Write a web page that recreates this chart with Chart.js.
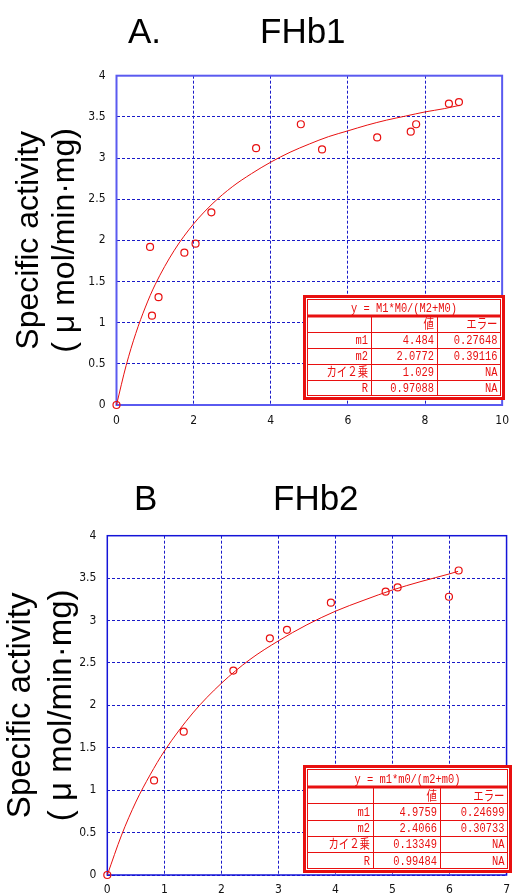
<!DOCTYPE html>
<html>
<head>
<meta charset="utf-8">
<script src="https://cdn.jsdelivr.net/npm/chart.js@4.4.0/dist/chart.umd.min.js"></script>
<style>
  html, body { margin: 0; padding: 0; background: #fff; }
  body { width: 518px; height: 895px; position: relative; overflow: hidden; }
  canvas { position: absolute; left: 0; }
  #chartA { top: 0; }
  #chartB { top: 440px; }
</style>
</head>
<body>
<canvas id="chartA" width="518" height="440"></canvas>
<canvas id="chartB" width="518" height="455"></canvas>
<script>
// panel A - FHb1, measured points
var fhb1X = [0, 0.87, 0.92, 1.09, 1.76, 2.05, 2.46, 3.62, 4.78, 5.33, 6.76, 7.63, 7.77, 8.62, 8.88];
var fhb1Y = [0, 1.92, 1.085, 1.31, 1.85, 1.96, 2.34, 3.12, 3.41, 3.105, 3.25, 3.32, 3.41, 3.66, 3.68];
// fitted curve
var fit1X = [0, 0.25, 0.5, 0.75, 1, 1.5, 2, 2.5, 3, 3.5, 4, 4.5, 5, 5.5, 6, 6.5, 7, 7.5, 8, 8.5, 8.9];
var fit1Y = [0, 0.48, 0.87, 1.19, 1.46, 1.88, 2.20, 2.45, 2.65, 2.81, 2.95, 3.07, 3.17, 3.26, 3.33, 3.40, 3.46, 3.51, 3.56, 3.60, 3.64];

// panel B - FHb2
var fhb2X = [0, 0.82, 1.34, 2.21, 2.85, 3.15, 3.92, 4.88, 5.09, 5.99, 6.16];
var fhb2Y = [0, 1.115, 1.69, 2.41, 2.79, 2.89, 3.21, 3.34, 3.39, 3.28, 3.59];
var fit2X = [0, 0.25, 0.5, 0.75, 1, 1.5, 2, 2.5, 3, 3.5, 4, 4.5, 5, 5.5, 6, 6.15];
var fit2Y = [0, 0.47, 0.86, 1.18, 1.46, 1.91, 2.26, 2.54, 2.76, 2.95, 3.11, 3.24, 3.36, 3.46, 3.55, 3.58];

// titles
var panelA = ['A.', 'FHb1'];
var panelB = ['B', 'FHb2'];
var yTitle = ['Specific activity', '( \u03bc mol/min\u00b7mg)'];

// fit result tables
var table1Head = 'y = M1*M0/(M2+M0)';
var table2Head = 'y = m1*m0/(m2+m0)';
var tableCols = ['', '値', 'エラー'];
var table1Rows = [['m1', '4.484', '0.27648'], ['m2', '2.0772', '0.39116'], ['カイ２乗', '1.029', 'NA'], ['R', '0.97088', 'NA']];
var table2Rows = [['m1', '4.9759', '0.24699'], ['m2', '2.4066', '0.30733'], ['カイ２乗', '0.13349', 'NA'], ['R', '0.99484', 'NA']];

var red = '#e81010';
var tickFont = { family: '"DejaVu Sans Condensed", "Liberation Sans Narrow", sans-serif', size: 12 };

function zip(xs, ys) {
  return xs.map(function (x, i) { return { x: x, y: ys[i] }; });
}

function line(ctx, x1, y1, x2, y2) {
  ctx.beginPath();
  ctx.moveTo(x1, y1);
  ctx.lineTo(x2, y2);
  ctx.stroke();
}

// solid frame around the plot area
var framePlugin = {
  id: 'frame',
  beforeDatasetsDraw: function (chart, args, opts) {
    var a = chart.chartArea, ctx = chart.ctx;
    ctx.save();
    ctx.strokeStyle = opts.color;
    ctx.lineWidth = opts.width;
    ctx.strokeRect(a.left, a.top, a.right - a.left, a.bottom - a.top);
    ctx.restore();
  }
};

var titlePlugin = {
  id: 'panelTitle',
  afterDraw: function (chart, args, opts) {
    var ctx = chart.ctx;
    ctx.save();
    ctx.font = '35px "Liberation Sans", Arial, sans-serif';
    ctx.fillStyle = '#000';
    ctx.textBaseline = 'alphabetic';
    ctx.textAlign = 'left';
    ctx.fillText(opts.text[0], opts.x[0], opts.y);
    ctx.fillText(opts.text[1], opts.x[1], opts.y);
    ctx.restore();
  }
};

// narrow text, like the fixed-width font of the original table
function narrowText(ctx, s, x, y) {
  ctx.save();
  ctx.translate(x, y);
  ctx.scale(0.8, 1);
  ctx.fillText(s, 0, 0);
  ctx.restore();
}

var tablePlugin = {
  id: 'fitTable',
  afterDraw: function (chart, args, o) {
    var ctx = chart.ctx;
    var x = o.x, y = o.y, w = o.w, h = o.h;
    var c1 = x + w * o.cols[0], c2 = x + w * o.cols[1];
    ctx.save();
    ctx.fillStyle = '#fff';
    ctx.fillRect(x, y, w, h);
    ctx.strokeStyle = red;
    ctx.lineWidth = 3;
    ctx.strokeRect(x + 1.5, y + 1.5, w - 3, h - 3);
    ctx.lineWidth = 1;
    var inL = x + 4.5, inR = x + w - 4.5, inT = y + 4.5, inB = y + h - 4.5;
    ctx.strokeRect(inL, inT, inR - inL, inB - inT);
    var headB = y + o.headH;
    var rows = [tableCols].concat(o.rows);
    var rowH = (inB - headB) / rows.length;
    ctx.lineWidth = 3;
    line(ctx, inL, headB, inR, headB);
    ctx.lineWidth = 1;
    for (var i = 1; i < rows.length; i++) {
      line(ctx, inL, Math.round(headB + rowH * i) + 0.5, inR, Math.round(headB + rowH * i) + 0.5);
    }
    line(ctx, Math.round(c1) + 0.5, headB, Math.round(c1) + 0.5, inB);
    line(ctx, Math.round(c2) + 0.5, headB, Math.round(c2) + 0.5, inB);

    ctx.fillStyle = red;
    ctx.font = '13px "Liberation Mono", "Noto Sans CJK JP", monospace';
    ctx.textBaseline = 'middle';
    ctx.textAlign = 'center';
    narrowText(ctx, o.head, (inL + inR) / 2, (inT + headB) / 2 + 1);
    ctx.textAlign = 'right';
    rows.forEach(function (r, i) {
      var cy = headB + rowH * (i + 0.5) + 1;
      narrowText(ctx, r[0], c1 - 3, cy);
      narrowText(ctx, r[1], c2 - 3, cy);
      narrowText(ctx, r[2], inR - 3, cy);
    });
    ctx.restore();
  }
};

function makeChart(canvasId, o) {
  return new Chart(document.getElementById(canvasId), {
    type: 'scatter',
    data: {
      datasets: [
        {
          data: zip(o.fitX, o.fitY),
          showLine: true,
          borderColor: red,
          borderWidth: 1,
          pointRadius: 0,
          cubicInterpolationMode: 'monotone',
          clip: false
        },
        {
          data: zip(o.ptX, o.ptY),
          showLine: false,
          pointStyle: 'circle',
          pointRadius: 3.5,
          borderColor: red,
          backgroundColor: 'rgba(0,0,0,0)',
          borderWidth: 1.2,
          clip: false
        }
      ]
    },
    options: {
      responsive: false,
      animation: false,
      devicePixelRatio: 1,
      layout: { padding: { left: 0, right: o.padRight, top: o.padTop, bottom: 0 } },
      plugins: {
        legend: { display: false },
        tooltip: { enabled: false },
        frame: { color: o.frameColor, width: o.frameWidth },
        panelTitle: o.title,
        fitTable: o.table
      },
      scales: {
        x: {
          type: 'linear',
          min: 0,
          max: o.xMax,
          afterFit: function (s) { s.height = o.xAxisH; },
          ticks: { stepSize: o.xStep, padding: o.xTickPad, font: tickFont, color: '#111', maxRotation: 0 },
          grid: { color: '#1a1ac8', drawTicks: false },
          border: { display: false, dash: [3, 2] }
        },
        y: {
          type: 'linear',
          min: 0,
          max: 4,
          afterFit: function (s) { s.width = o.yAxisW; },
          ticks: {
            stepSize: 0.5, padding: 11, font: tickFont, color: '#111',
            callback: function (v) { return String(v); }
          },
          grid: { color: '#1a1ac8', drawTicks: false },
          border: { display: false, dash: [3, 2] },
          title: {
            display: true,
            text: yTitle,
            color: '#000',
            font: { family: '"Liberation Sans", Arial, sans-serif', size: o.yTitleSize, lineHeight: o.yTitleLH },
            padding: { top: o.yTitlePad, bottom: 0 }
          }
        }
      }
    },
    plugins: [framePlugin, tablePlugin, titlePlugin]
  });
}

makeChart('chartA', {
  ptX: fhb1X, ptY: fhb1Y, fitX: fit1X, fitY: fit1Y,
  xMax: 10, xStep: 2,
  padTop: 75.7, padRight: 7, xAxisH: 35, yAxisW: 116.5, xTickPad: 9,
  frameColor: '#5a5af0', frameWidth: 2,
  yTitleSize: 32, yTitleLH: 1.1, yTitlePad: 12,
  title: { text: panelA, x: [128, 260], y: 43 },
  table: { head: table1Head, rows: table1Rows, x: 303, y: 295, w: 202, h: 105, headH: 21, cols: [0.337, 0.663] }
});

makeChart('chartB', {
  ptX: fhb2X, ptY: fhb2Y, fitX: fit2X, fitY: fit2Y,
  xMax: 7, xStep: 1,
  padTop: 95.7, padRight: 6, xAxisH: 20, yAxisW: 107.3, xTickPad: 8,
  frameColor: '#1414d8', frameWidth: 1.5,
  yTitleSize: 33, yTitleLH: 1.25, yTitlePad: 0,
  title: { text: panelB, x: [134, 273], y: 70 },
  table: { head: table2Head, rows: table2Rows, x: 303, y: 325, w: 209, h: 108, headH: 22, cols: [0.335, 0.655] }
});
</script>
</body>
</html>
